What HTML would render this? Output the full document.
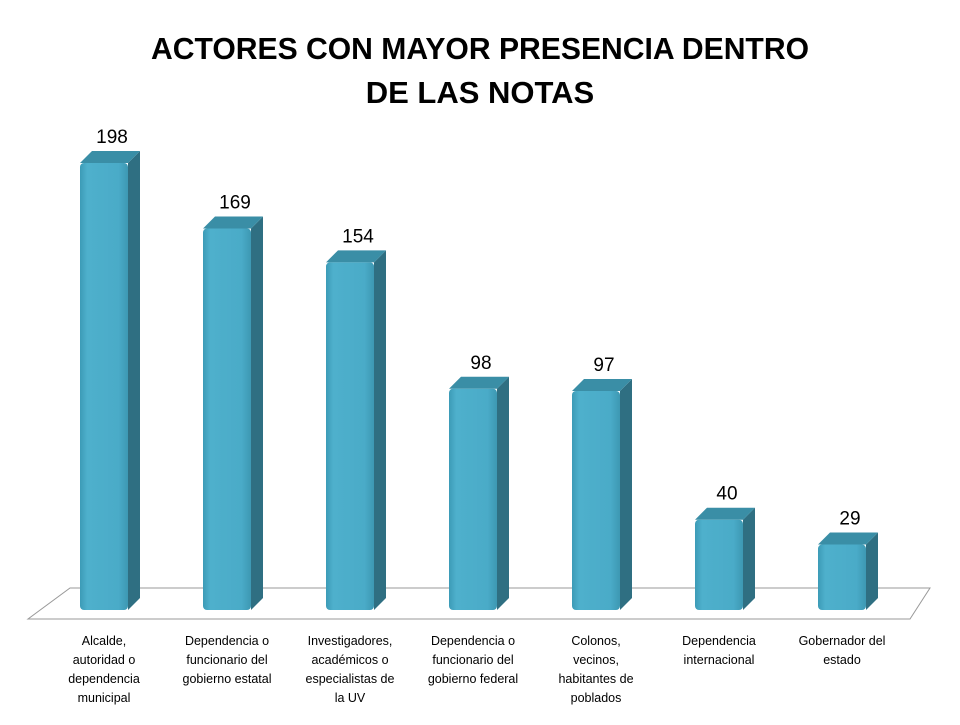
<!DOCTYPE html>
<html><head><meta charset="utf-8"><style>
body{margin:0;background:#fff;width:960px;height:720px;overflow:hidden;font-family:"Liberation Sans",sans-serif}
</style></head><body>
<svg id="chart" width="960" height="720">
<defs>
<linearGradient id="front" x1="0" x2="1" y1="0" y2="0">
<stop offset="0" stop-color="#3c9bb6"/><stop offset="0.15" stop-color="#4eb0cc"/><stop offset="0.8" stop-color="#4aabc8"/><stop offset="1" stop-color="#3d98b3"/></linearGradient>
</defs>
<text x="480" y="59" text-anchor="middle" font-size="31" font-weight="bold" fill="#000" textLength="658" lengthAdjust="spacingAndGlyphs">ACTORES CON MAYOR PRESENCIA DENTRO</text>
<text x="480" y="103" text-anchor="middle" font-size="31" font-weight="bold" fill="#000">DE LAS NOTAS</text>
<polygon points="28,619 910,619 930,588 70,588" fill="none" stroke="#999" stroke-width="1"/>
<g id="bars"></g>
</svg>
<script>
const categories=[["Alcalde,","autoridad o","dependencia","municipal"],["Dependencia o","funcionario del","gobierno estatal"],["Investigadores,","académicos o","especialistas de","la UV"],["Dependencia o","funcionario del","gobierno federal"],["Colonos,","vecinos,","habitantes de","poblados"],["Dependencia","internacional"],["Gobernador del","estado"]];
const values=[198,169,154,98,97,40,29];
const NS="http://www.w3.org/2000/svg";
const g=document.getElementById('bars');
const base=610,scale=447/198;
function yPos(v){return base-v*scale;}
function xPos(i){return 104+i*123;}
function mk(t,a){const e=document.createElementNS(NS,t);for(const k in a)e.setAttribute(k,a[k]);g.appendChild(e);return e;}
values.forEach((v,i)=>{
const cx=xPos(i),x0=cx-24,x1=cx+24,top=yPos(v),d=12;
const side=mk('polygon',{points:`${x1},${top} ${x1+d},${top-d} ${x1+d},${base-d} ${x1},${base}`,fill:'#2f6f82'});


const cap=mk('polygon',{points:`${x0},${top} ${x0+d},${top-d} ${x1+d},${top-d} ${x1},${top}`,fill:'#3a8ea6'});


const f=mk('rect',{x:x0,y:top,width:48,height:base-top,rx:4,fill:'url(#front)'});


const t=mk('text',{x:cx+8,y:top-20,'text-anchor':'middle','font-size':19,fill:'#000'});
t.textContent=v;


categories[i].forEach((ln,j)=>{
const c=mk('text',{x:cx,y:645+j*19,'text-anchor':'middle','font-size':12.5,fill:'#000'});
c.textContent=ln;


});
});
</script>
</body></html>
